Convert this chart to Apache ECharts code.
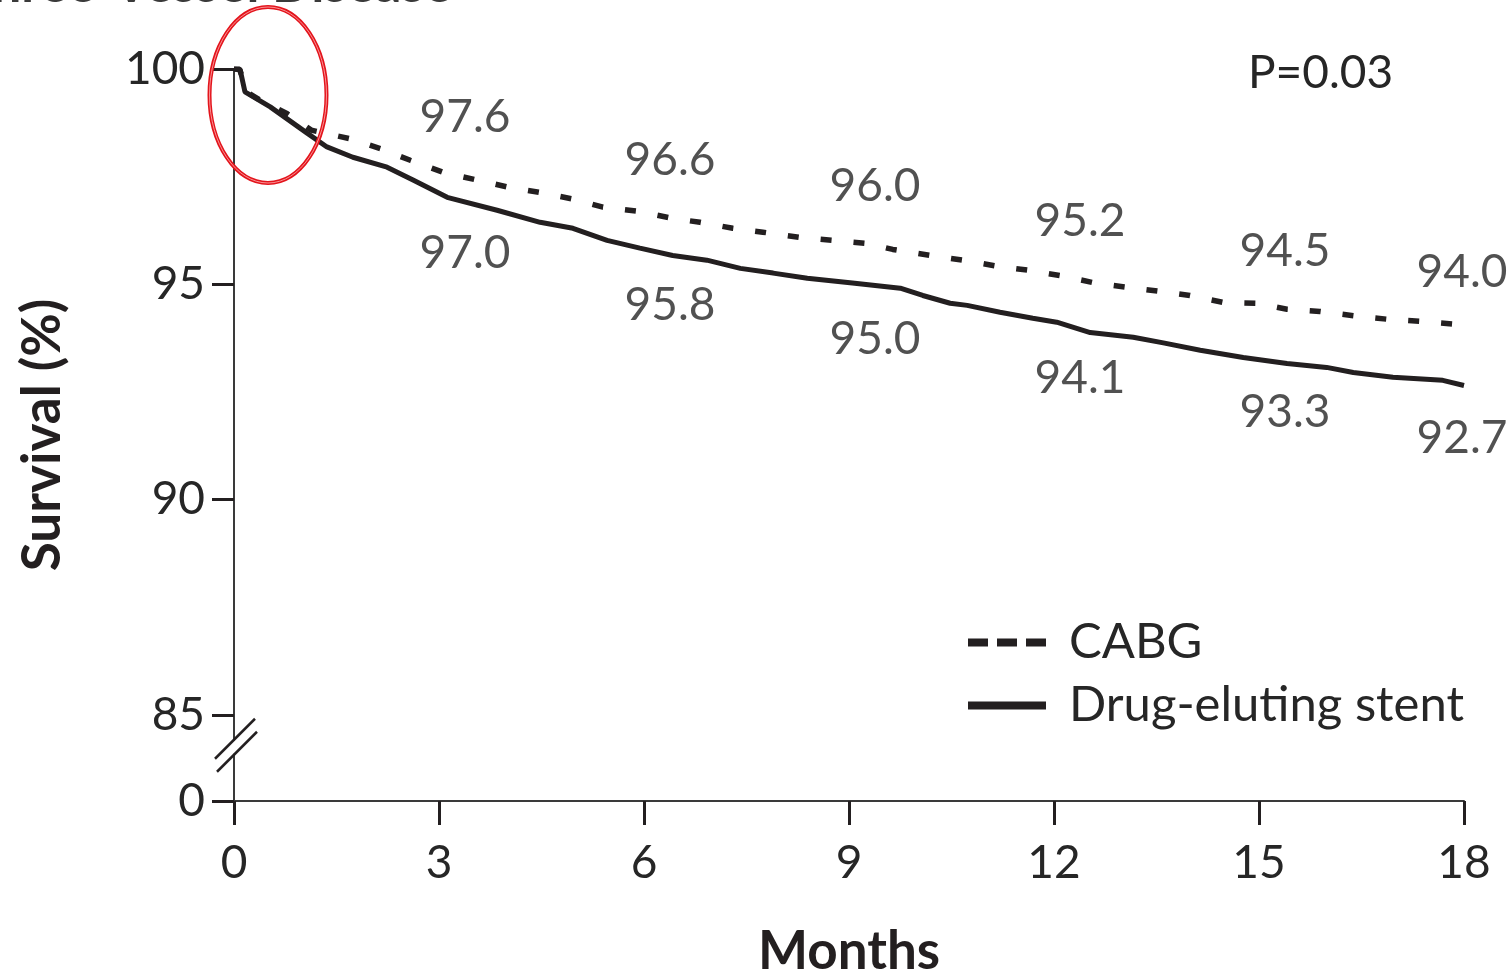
<!DOCTYPE html>
<html><head><meta charset="utf-8">
<script src="https://cdn.jsdelivr.net/npm/echarts@6/dist/echarts.min.js"></script>
<style>html,body{margin:0;padding:0;background:#fff}#c{width:1512px;height:975px}</style>
</head><body><div id="c"></div>
<script>
// ---- data ----
const cabgMonths = [0, 0.08, 0.2, 0.38, 0.78, 1.13, 1.70, 2.16, 2.58, 3.06, 3.56, 4.0, 4.52, 4.96, 5.40, 5.90, 6.42, 6.82, 7.30, 7.74, 8.28, 8.77, 9.26, 9.64, 10.19, 10.67, 11.17, 11.61, 12.13, 12.63, 13.07, 13.58, 13.99, 14.47, 14.97, 15.41, 15.89, 16.43, 16.87, 17.36, 17.90, 18.0];
const cabgSurvival = [100, 100, 99.45, 99.28, 98.96, 98.58, 98.38, 98.14, 97.88, 97.60, 97.42, 97.26, 97.12, 96.98, 96.79, 96.70, 96.53, 96.44, 96.30, 96.21, 96.09, 96.02, 95.95, 95.81, 95.67, 95.56, 95.42, 95.33, 95.19, 95.02, 94.93, 94.83, 94.74, 94.58, 94.56, 94.42, 94.37, 94.26, 94.19, 94.14, 94.07, 94.0];
const desMonths = [0, 0.09, 0.16, 0.53, 1.07, 1.36, 1.74, 2.24, 2.62, 3.12, 3.85, 4.48, 4.96, 5.46, 5.94, 6.42, 6.92, 7.41, 7.89, 8.39, 9.05, 9.75, 10.08, 10.48, 10.73, 11.21, 11.69, 12.04, 12.53, 13.16, 13.60, 14.14, 14.77, 15.41, 15.99, 16.38, 16.96, 17.69, 18.0];
const desSurvival = [100, 99.98, 99.47, 99.12, 98.51, 98.19, 97.95, 97.72, 97.42, 97.02, 96.72, 96.44, 96.30, 96.02, 95.84, 95.67, 95.56, 95.37, 95.26, 95.14, 95.03, 94.91, 94.74, 94.56, 94.51, 94.35, 94.21, 94.12, 93.88, 93.77, 93.64, 93.47, 93.30, 93.16, 93.07, 92.95, 92.84, 92.77, 92.65];
const milestoneMonths = [3, 6, 9, 12, 15, 18];
const cabgMilestones = [97.6, 96.6, 96.0, 95.2, 94.5, 94.0];
const desMilestones = [97.0, 95.8, 95.0, 94.1, 93.3, 92.7];
const xTicks = [0, 3, 6, 9, 12, 15, 18];
const yTickValues = [83, 85, 90, 95, 100];   // 83 is the broken-axis position shown as "0"
const yTickLabels = ['0', '85', '90', '95', '100'];
const seriesNames = ['CABG', 'Drug-eluting stent'];
const pValueText = 'P=0.03';
const titleText = 'Three-Vessel Disease';

// ---- chart ----
const FONT = 'Lato';
const INK = '#231f20';
const TXT = '#262626';
const chart = echarts.init(document.getElementById('c'), null, {renderer: 'canvas'});
const zip = (a, b) => a.map((v, i) => [v, b[i]]);

const labelSeries = (name, vals, dy) => ({
  type: 'scatter', name: name, silent: true, legendHoverLink: false,
  symbolSize: 1, itemStyle: {color: 'transparent'}, clip: false, z: 5,
  data: milestoneMonths.map((m, i) => ({
    value: [m, vals[i]],
    label: {offset: [i === milestoneMonths.length - 1 ? -2 : 26, dy]}
  })),
  label: {show: true, position: 'inside', formatter: p => p.value[1].toFixed(1),
    fontFamily: FONT, fontSize: 46, color: TXT}
});

const option = {
  animation: false,
  backgroundColor: '#ffffff',
  grid: {left: 234, right: 48, top: 69, bottom: 174, containLabel: false, outerBoundsMode: 'none'},
  xAxis: {
    type: 'value', min: 0, max: 18, interval: 3,
    name: 'Months', nameLocation: 'middle', nameGap: 124,
    nameTextStyle: {fontFamily: FONT, fontWeight: 'bold', fontSize: 53, color: INK},
    axisLine: {lineStyle: {color: '#3a3a3a', width: 2}},
    axisTick: {length: 24, lineStyle: {color: INK, width: 3}},
    axisLabel: {margin: 39, fontFamily: FONT, fontSize: 46, color: TXT,
      formatter: v => xTicks.includes(v) ? String(v) : ''},
    splitLine: {show: false}
  },
  yAxis: {
    type: 'value', min: 83, max: 100,
    name: 'Survival (%)', nameLocation: 'middle', nameGap: 165, nameRotate: 90,
    nameTextStyle: {fontFamily: FONT, fontWeight: 'bold', fontSize: 53, color: INK},
    axisLine: {show: true, lineStyle: {color: '#3a3a3a', width: 2}},
    axisTick: {show: true, length: 22, customValues: yTickValues, lineStyle: {color: INK, width: 3}},
    axisLabel: {margin: 29, customValues: yTickValues, fontFamily: FONT, fontSize: 46, color: TXT,
      formatter: v => { const i = yTickValues.indexOf(v); return i >= 0 ? yTickLabels[i] : ''; }},
    splitLine: {show: false}
  },
  legend: {
    orient: 'vertical', left: 959, top: 613, itemWidth: 78, itemHeight: 14, itemGap: 14,
    textStyle: {fontFamily: FONT, fontSize: 49, color: TXT, lineHeight: 44, padding: [0, 0, 0, 18]},
    data: [
      {name: seriesNames[0], itemStyle: {color: 'transparent', borderWidth: 0, opacity: 0}, lineStyle: {type: [20, 9], width: 8, color: INK}},
      {name: seriesNames[1], itemStyle: {color: 'transparent', borderWidth: 0, opacity: 0}, lineStyle: {type: 'solid', width: 8, color: INK}}
    ]
  },
  series: [
    {type: 'line', name: seriesNames[0], data: zip(cabgMonths, cabgSurvival), symbol: 'none',
      lineStyle: {color: INK, width: 5.5, type: [11, 22]}, itemStyle: {color: INK}, z: 3},
    {type: 'line', name: seriesNames[1], data: zip(desMonths, desSurvival), symbol: 'none',
      lineStyle: {color: INK, width: 5, type: 'solid'}, itemStyle: {color: INK}, z: 4},
    labelSeries('cabgLabels', cabgMilestones, -55),
    labelSeries('desLabels', desMilestones, 55)
  ]
};
chart.setOption(option);

// decorations: axis break, P value, annotation ellipse, clipped title
const b = chart.convertToPixel({gridIndex: 0}, [0, 84.26]);
chart.setOption({
  graphic: [
    {type: 'rect', z: 100, shape: {x: b[0] - 5, y: b[1] - 6, width: 10, height: 13}, style: {fill: '#ffffff'}},
    {type: 'line', z: 101, shape: {x1: b[0] - 19, y1: b[1] + 12, x2: b[0] + 21, y2: b[1] - 28}, style: {stroke: INK, lineWidth: 2.5}},
    {type: 'line', z: 101, shape: {x1: b[0] - 17, y1: b[1] + 25, x2: b[0] + 23, y2: b[1] - 15}, style: {stroke: INK, lineWidth: 2.5}},
    {type: 'text', z: 101, x: 1248, y: 73, style: {text: pValueText, font: '46px Lato', fill: TXT, verticalAlign: 'middle'}},
    {type: 'text', z: 101, x: 452, y: 11, style: {text: titleText, font: 'bold 52px Lato', fill: '#3a3a3a', align: 'right', verticalAlign: 'bottom'}},
    {type: 'ellipse', z: 102, shape: {cx: 268, cy: 95, rx: 58.5, ry: 88}, style: {fill: 'none', stroke: '#e3141c', lineWidth: 4}},
    {type: 'ellipse', z: 103, shape: {cx: 268, cy: 95, rx: 58.5, ry: 88}, style: {fill: 'none', stroke: '#ffb3b3', lineWidth: 0.8}}
  ]
});
</script>
</body></html>
